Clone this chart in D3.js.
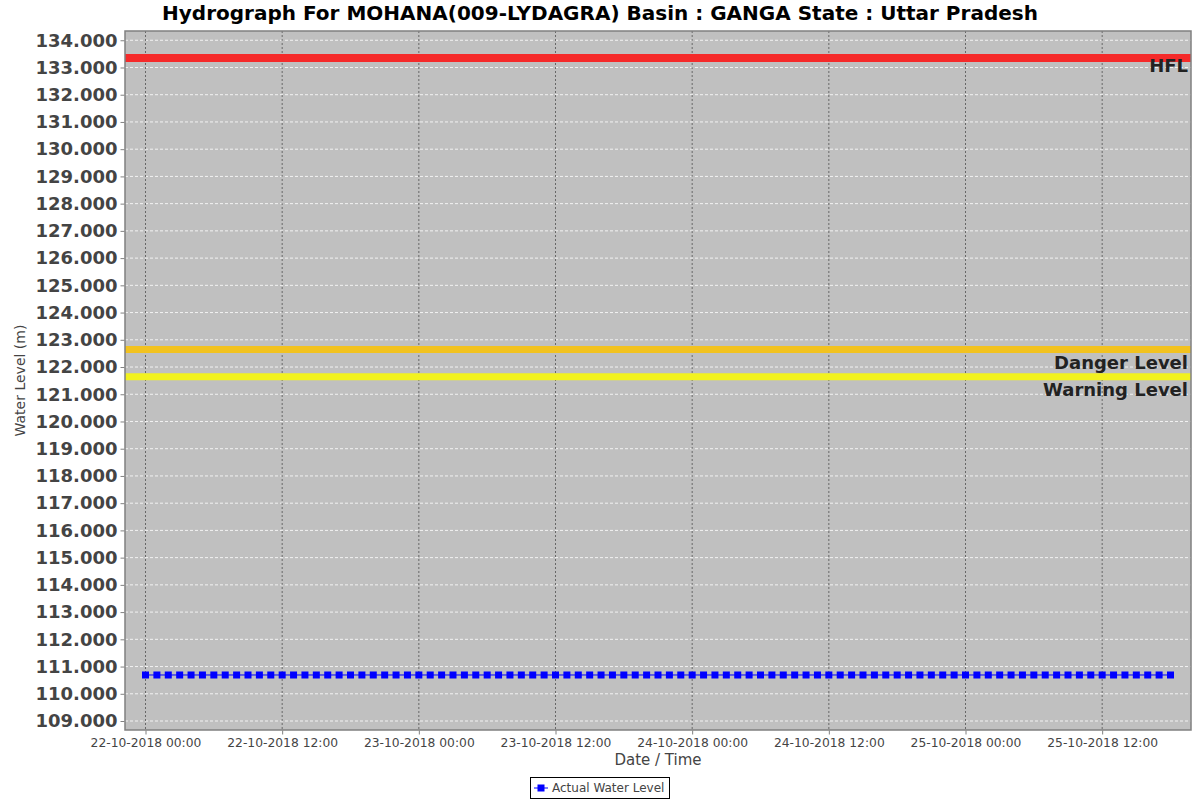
<!DOCTYPE html>
<html><head><meta charset="utf-8">
<script src="https://cdn.jsdelivr.net/npm/d3@7/dist/d3.min.js"></script>
<style>body{margin:0;background:#fff;}svg{display:block;font-family:"DejaVu Sans",sans-serif;}</style>
</head><body>
<svg id="chart" width="1200" height="800"></svg>
<script>
const title = "Hydrograph For MOHANA(009-LYDAGRA) Basin : GANGA State : Uttar Pradesh";
const startTime = "2018-10-22T00:00:00Z";
const waterLevels = [
110.69,110.69,110.69,110.69,110.69,110.69,110.69,110.69,110.69,110.69,
110.69,110.69,110.69,110.69,110.69,110.69,110.69,110.69,110.69,110.69,
110.69,110.69,110.69,110.69,110.69,110.69,110.69,110.69,110.69,110.69,
110.69,110.69,110.69,110.69,110.69,110.69,110.69,110.69,110.69,110.69,
110.69,110.69,110.69,110.69,110.69,110.69,110.69,110.69,110.69,110.69,
110.69,110.69,110.69,110.69,110.69,110.69,110.69,110.69,110.69,110.69,
110.69,110.69,110.69,110.69,110.69,110.69,110.69,110.69,110.69,110.69,
110.69,110.69,110.69,110.69,110.69,110.69,110.69,110.69,110.69,110.69,
110.69,110.69,110.69,110.69,110.69,110.69,110.69,110.69,110.69,110.69,
110.69];
const levelNames = ["HFL", "Danger Level", "Warning Level"];
const levelValues = [133.35, 122.64, 121.64];
const levelColors = ["#f52a2a", "#f2c21f", "#f2f21e"];
const yTicks = d3.range(109, 134.5, 1);
const xTickStep = 12; // hours

const W = 1200, H = 800;
const m = {left:125, right:1191, top:31, bottom:730};
const svg = d3.select("#chart");

const t0 = new Date(startTime);
const times = waterLevels.map((v,i) => d3.utcHour.offset(t0, i));
const data = waterLevels.map((v,i) => ({t: times[i], v}));

const x = d3.scaleUtc()
  .domain([new Date(+t0 - 1.8*3600e3), new Date(+times[times.length-1] + 1.8*3600e3)])
  .range([m.left, m.right]);
const y = d3.scaleLinear().domain([108.67, 134.34]).range([m.bottom, m.top]);

svg.append("rect").attr("x", m.left).attr("y", m.top)
  .attr("width", m.right-m.left).attr("height", m.bottom-m.top).attr("fill", "#c0c0c0");

const xTickVals = d3.utcHour.every(xTickStep).range(t0, times[times.length-1]);

const g = svg.append("g");
g.selectAll(".hg").data(yTicks).join("line")
  .attr("x1", m.left).attr("x2", m.right)
  .attr("y1", d => y(d)).attr("y2", d => y(d))
  .attr("stroke", "#ffffff").attr("stroke-width", 0.8).attr("stroke-dasharray", "3,2");
g.selectAll(".vg").data(xTickVals).join("line")
  .attr("x1", d => x(d)).attr("x2", d => x(d))
  .attr("y1", m.top).attr("y2", m.bottom)
  .attr("stroke", "#505050").attr("stroke-width", 0.8).attr("stroke-dasharray", "2,2");

const labelOffsets = [14, 19.5, 19.5];
levelValues.forEach((v,i) => {
  svg.append("line").attr("x1", m.left).attr("x2", m.right)
    .attr("y1", y(v)).attr("y2", y(v))
    .attr("stroke", levelColors[i]).attr("stroke-width", i===0 ? 8 : 7);
  svg.append("text").attr("x", 1188).attr("y", y(v) + labelOffsets[i])
    .attr("text-anchor", "end").attr("font-size", 18).attr("font-weight", "bold")
    .attr("fill", "#222").text(levelNames[i]);
});

svg.append("path").datum(data)
  .attr("d", d3.line().x(d => x(d.t)).y(d => y(d.v)))
  .attr("fill", "none").attr("stroke", "#0000ff").attr("stroke-width", 1);
svg.selectAll(".pt").data(data).join("rect")
  .attr("x", d => x(d.t) - 3.5).attr("y", d => y(d.v) - 3.5)
  .attr("width", 7).attr("height", 7).attr("fill", "#0000ff");

svg.append("rect").attr("x", m.left).attr("y", m.top)
  .attr("width", m.right-m.left).attr("height", m.bottom-m.top)
  .attr("fill", "none").attr("stroke", "#808080").attr("stroke-width", 1.5);

const yAxis = svg.append("g").attr("transform", `translate(${m.left-0.5},0)`)
  .call(d3.axisLeft(y).tickValues(yTicks).tickFormat(d3.format(".3f")).tickSize(4).tickPadding(3));
yAxis.select(".domain").remove();
yAxis.selectAll("line").attr("stroke", "#808080");
yAxis.selectAll("text").attr("font-size", 18).attr("font-weight", "bold")
  .attr("fill", "#444").attr("font-family", "DejaVu Sans");

const xAxis = svg.append("g").attr("transform", `translate(0,${m.bottom+0.5})`)
  .call(d3.axisBottom(x).tickValues(xTickVals).tickFormat(d3.utcFormat("%d-%m-%Y %H:%M")).tickSize(4).tickPadding(4));
xAxis.select(".domain").remove();
xAxis.selectAll("line").attr("stroke", "#808080");
xAxis.selectAll("text").attr("font-size", 12.3).attr("fill", "#444").attr("font-family", "DejaVu Sans");

svg.append("text").attr("x", 600).attr("y", 20).attr("text-anchor", "middle")
  .attr("font-size", 20).attr("font-weight", "bold").attr("fill", "#000").text(title);

svg.append("text").attr("x", (m.left+m.right)/2).attr("y", 765).attr("text-anchor", "middle")
  .attr("font-size", 15).attr("fill", "#444").text("Date / Time");
svg.append("text").attr("transform", `translate(25,${(m.top+m.bottom)/2}) rotate(-90)`)
  .attr("text-anchor", "middle").attr("font-size", 14).attr("fill", "#444").text("Water Level (m)");

const lg = svg.append("g");
lg.append("rect").attr("x", 530.5).attr("y", 777.5).attr("width", 139).attr("height", 21)
  .attr("fill", "#fff").attr("stroke", "#000").attr("stroke-width", 1);
lg.append("line").attr("x1", 534).attr("x2", 548).attr("y1", 788).attr("y2", 788)
  .attr("stroke", "#0000ff").attr("stroke-width", 1);
lg.append("rect").attr("x", 537.5).attr("y", 784.5).attr("width", 7).attr("height", 7).attr("fill", "#0000ff");
lg.append("text").attr("x", 552).attr("y", 792).attr("font-size", 12).attr("fill", "#444").text("Actual Water Level");
</script>
</body></html>
